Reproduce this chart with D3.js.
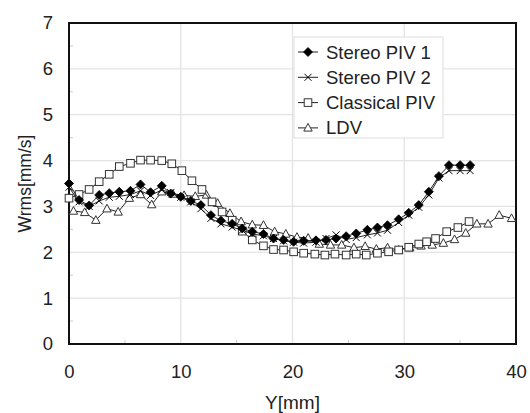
<!DOCTYPE html>
<html>
<head>
<meta charset="utf-8">
<script src="https://cdn.jsdelivr.net/npm/d3@7"></script>
<style>
  body { margin: 0; background: #fff; }
  text { font-family: "Liberation Sans", Arial, sans-serif; fill: #222; }
</style>
</head>
<body>
<div id="chart"></div>
<script>
var svgWidth = 530;
var svgHeight = 413;

var margin = { top: 23, right: 14, bottom: 69, left: 69 };
var width = svgWidth - margin.left - margin.right;
var height = svgHeight - margin.top - margin.bottom;

// data: Y[mm] and Wrms[mm/s]
var piv1X = [0, 0.9, 1.8, 2.7, 3.6, 4.5, 5.5, 6.4, 7.3, 8.3, 9.1, 10.0, 10.9, 11.8, 12.7, 13.6, 14.6, 15.5, 16.4, 17.4,
  18.3, 19.2, 20.1, 21.0, 22.1, 23.0, 23.9, 24.8, 25.7, 26.7, 27.6, 28.5, 29.5, 30.4, 31.3, 32.2, 33.1, 34.0, 35.0, 35.9];
var piv1Y = [3.50, 3.14, 3.02, 3.25, 3.29, 3.32, 3.34, 3.48, 3.31, 3.45, 3.28, 3.21, 3.12, 3.03, 2.81, 2.69, 2.62, 2.52, 2.45, 2.40,
  2.30, 2.27, 2.23, 2.25, 2.26, 2.27, 2.30, 2.35, 2.41, 2.49, 2.54, 2.59, 2.72, 2.86, 3.03, 3.32, 3.66, 3.90, 3.90, 3.90];

var piv2X = [0, 0.9, 1.8, 2.7, 3.6, 4.5, 5.5, 6.4, 7.3, 8.3, 9.1, 10.0, 10.9, 11.8, 12.7, 13.6, 14.6, 15.5, 16.4, 17.4,
  18.3, 19.2, 20.1, 21.0, 22.1, 23.0, 23.9, 24.8, 25.7, 26.7, 27.6, 28.5, 29.5, 30.4, 31.3, 32.2, 33.1, 34.0, 35.0, 35.9];
var piv2Y = [3.42, 3.10, 3.00, 3.12, 3.20, 3.22, 3.26, 3.34, 3.24, 3.36, 3.30, 3.20, 3.10, 2.95, 2.74, 2.62, 2.55, 2.48, 2.40, 2.36,
  2.30, 2.25, 2.22, 2.20, 2.22, 2.30, 2.38, 2.28, 2.32, 2.38, 2.42, 2.48, 2.65, 2.81, 2.98, 3.25, 3.62, 3.78, 3.78, 3.78];

var classicX = [0, 0.9, 1.8, 2.7, 3.6, 4.5, 5.5, 6.4, 7.3, 8.3, 9.2, 10.1, 11.0, 11.9, 12.8, 13.7, 14.6, 15.5, 16.4, 17.4,
  18.3, 19.2, 20.1, 21.0, 22.0, 22.9, 23.8, 24.8, 25.7, 26.6, 27.6, 28.6, 29.5, 30.4, 31.3, 32.0, 32.8, 33.8, 34.8, 35.8];
var classicY = [3.18, 3.26, 3.37, 3.54, 3.70, 3.87, 3.94, 4.01, 4.01, 4.00, 3.93, 3.78, 3.56, 3.37, 3.10, 2.88, 2.70, 2.46, 2.27, 2.14,
  2.06, 2.05, 2.01, 1.98, 1.96, 1.94, 1.96, 1.94, 1.96, 1.94, 1.98, 2.01, 2.05, 2.11, 2.18, 2.23, 2.30, 2.45, 2.54, 2.67];

var ldvX = [0.4, 1.4, 2.4, 3.4, 4.4, 5.4, 6.4, 7.4, 8.3, 9.3, 10.3, 11.3, 12.3, 13.3, 14.4, 15.4, 16.4, 17.4, 18.4, 19.4,
  20.4, 21.4, 22.4, 23.4, 24.4, 25.5, 26.5, 27.5, 28.5, 29.5, 30.5, 31.5, 32.5, 33.5, 34.5, 35.5, 36.5, 37.5, 38.5, 39.6];
var ldvY = [2.90, 2.87, 2.70, 2.95, 2.88, 3.18, 3.26, 3.04, 3.32, 3.27, 3.24, 3.22, 3.25, 3.07, 2.85, 2.67, 2.60, 2.59, 2.45, 2.40,
  2.33, 2.31, 2.18, 2.16, 2.16, 2.10, 2.13, 2.07, 2.10, 2.05, 2.10, 2.14, 2.16, 2.20, 2.28, 2.42, 2.62, 2.62, 2.81, 2.74];

var seriesNames = ["Stereo PIV 1", "Stereo PIV 2", "Classical PIV", "LDV"];
var seriesMarks = ["diamond", "cross", "square", "triangle"];
var xTicks = [0, 10, 20, 30, 40];
var yTicks = [0, 1, 2, 3, 4, 5, 6, 7];

var series = [
  { name: seriesNames[0], mark: seriesMarks[0], xs: piv1X, ys: piv1Y },
  { name: seriesNames[1], mark: seriesMarks[1], xs: piv2X, ys: piv2Y },
  { name: seriesNames[2], mark: seriesMarks[2], xs: classicX, ys: classicY },
  { name: seriesNames[3], mark: seriesMarks[3], xs: ldvX, ys: ldvY }
];

var svg = d3.select("#chart")
  .append("svg")
  .attr("width", svgWidth)
  .attr("height", svgHeight);

var chartGroup = svg.append("g")
  .attr("transform", `translate(${margin.left}, ${margin.top})`);

var xScale = d3.scaleLinear().domain([0, 40]).range([0, width]);
var yScale = d3.scaleLinear().domain([0, 7]).range([height, 0]);

// gridlines
chartGroup.append("g")
  .selectAll("line.gy")
  .data(yTicks.slice(1, -1))
  .enter().append("line")
  .attr("x1", 0).attr("x2", width)
  .attr("y1", d => yScale(d)).attr("y2", d => yScale(d))
  .attr("stroke", "#e4e4e4").attr("stroke-width", 1.3);

chartGroup.append("g")
  .selectAll("line.gx")
  .data(xTicks.slice(1, -1))
  .enter().append("line")
  .attr("y1", 0).attr("y2", height)
  .attr("x1", d => xScale(d)).attr("x2", d => xScale(d))
  .attr("stroke", "#e4e4e4").attr("stroke-width", 1.3);

// minor ticks inside the frame
chartGroup.append("g")
  .selectAll("line")
  .data([5, 15, 25, 35])
  .enter().append("line")
  .attr("x1", d => xScale(d)).attr("x2", d => xScale(d))
  .attr("y1", height).attr("y2", height - 4)
  .attr("stroke", "#ccc");

chartGroup.append("g")
  .selectAll("line")
  .data([0.5, 1.5, 2.5, 3.5, 4.5, 5.5, 6.5])
  .enter().append("line")
  .attr("y1", d => yScale(d)).attr("y2", d => yScale(d))
  .attr("x1", 0).attr("x2", 4)
  .attr("stroke", "#ccc");

// axes
var bottomAxis = d3.axisBottom(xScale).tickValues(xTicks).tickSize(0).tickPadding(21)
  .tickFormat(d3.format("d"));
var leftAxis = d3.axisLeft(yScale).tickValues(yTicks).tickSize(0).tickPadding(16)
  .tickFormat(d3.format("d"));

var xAxisG = chartGroup.append("g")
  .attr("transform", `translate(0, ${height})`)
  .call(bottomAxis);
var yAxisG = chartGroup.append("g").call(leftAxis);

[xAxisG, yAxisG].forEach(function(g) {
  g.select(".domain").remove();
  g.selectAll("text")
    .style("font-family", "'Liberation Sans', Arial, sans-serif")
    .style("font-size", "18.5px")
    .attr("fill", "#222");
});

// frame
chartGroup.append("rect")
  .attr("x", 0).attr("y", 0)
  .attr("width", width).attr("height", height)
  .attr("fill", "none")
  .attr("stroke", "#111")
  .attr("stroke-width", 2);

// axis labels
svg.append("text")
  .attr("x", margin.left + width / 2)
  .attr("y", 409)
  .attr("text-anchor", "middle")
  .style("font-size", "19px")
  .text("Y[mm]");

svg.append("text")
  .attr("transform", `translate(31, ${margin.top + height / 2}) rotate(-90)`)
  .attr("text-anchor", "middle")
  .style("font-size", "17.5px")
  .text("Wrms[mm/s]");

// markers
function drawMark(g, kind, x, y) {
  if (kind == "diamond") {
    g.append("path")
      .attr("d", `M${x},${y - 4.5}L${x + 4.5},${y}L${x},${y + 4.5}L${x - 4.5},${y}Z`)
      .attr("fill", "#000").attr("stroke", "#000").attr("stroke-width", 0.8);
  } else if (kind == "cross") {
    g.append("path")
      .attr("d", `M${x - 3.5},${y - 3.5}L${x + 3.5},${y + 3.5}M${x - 3.5},${y + 3.5}L${x + 3.5},${y - 3.5}`)
      .attr("fill", "none").attr("stroke", "#000").attr("stroke-width", 1);
  } else if (kind == "square") {
    g.append("rect")
      .attr("x", x - 3.8).attr("y", y - 3.8)
      .attr("width", 7.6).attr("height", 7.6)
      .attr("fill", "#fff").attr("stroke", "#333").attr("stroke-width", 1);
  } else {
    g.append("path")
      .attr("d", `M${x},${y - 4.5}L${x + 4.2},${y + 3.2}L${x - 4.2},${y + 3.2}Z`)
      .attr("fill", "#fff").attr("stroke", "#333").attr("stroke-width", 1);
  }
}

var line = d3.line()
  .x(d => xScale(d[0]))
  .y(d => yScale(d[1]));

// draw LDV first so the stereo series sit on top
[3, 2, 1, 0].forEach(function(i) {
  var s = series[i];
  var pts = s.xs.map((x, j) => [x, s.ys[j]]);
  var g = chartGroup.append("g");
  g.append("path")
    .datum(pts)
    .attr("d", line)
    .attr("fill", "none")
    .attr("stroke", "#222")
    .attr("stroke-width", 1);
  pts.forEach(function(p) {
    drawMark(g, s.mark, xScale(p[0]), yScale(p[1]));
  });
});

// legend
var legend = svg.append("g");
legend.append("rect")
  .attr("x", 294).attr("y", 37)
  .attr("width", 149).attr("height", 101)
  .attr("fill", "#fff")
  .attr("stroke", "#ddd");

series.forEach(function(s, i) {
  var ly = 52 + i * 25.3;
  var g = legend.append("g");
  g.append("line")
    .attr("x1", 298).attr("x2", 318)
    .attr("y1", ly).attr("y2", ly)
    .attr("stroke", "#222");
  drawMark(g, s.mark, 308, ly);
  g.append("text")
    .attr("x", 326).attr("y", ly + 6.5)
    .style("font-size", "18.5px")
    .text(s.name);
});
</script>
</body>
</html>
